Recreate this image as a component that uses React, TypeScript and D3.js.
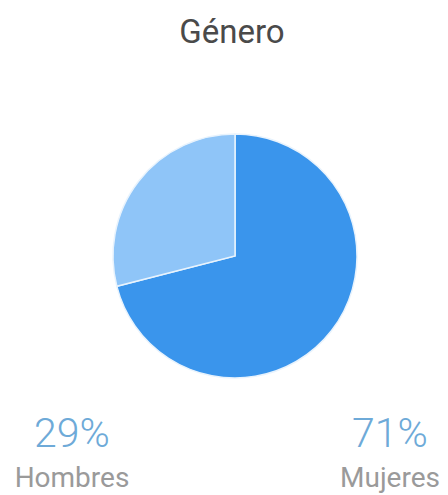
import React from "react";
import * as d3 from "d3";

const categories = ["Mujeres", "Hombres"];
const values = [71, 29];
const percentLabels = ["71%", "29%"];
const sliceColors = ["#3a95ec", "#8fc5f8"];

export default function App() {
  const width = 448;
  const height = 495;
  const cx = 235;
  const cy = 256;
  const r = 122;

  const pie = d3.pie<number>().sort(null).value((d) => d);
  const arcs = pie(values);
  const arcGen = d3.arc<d3.PieArcDatum<number>>().innerRadius(0).outerRadius(r);

  const labelX: Record<string, number> = { Hombres: 72, Mujeres: 390 };

  return (
    <svg
      width={width}
      height={height}
      style={{ position: "absolute", left: 0, top: 0, display: "block", background: "#fff" }}
    >
      <text
        x={232}
        y={43}
        textAnchor="middle"
        fontFamily="Roboto, 'Liberation Sans', sans-serif"
        fontSize={33}
        fill="#4a4a4a"
      >
        Género
      </text>
      <g transform={`translate(${cx},${cy})`}>
        {arcs.map((a, i) => (
          <path
            key={categories[i]}
            d={arcGen(a) || ""}
            fill={sliceColors[i]}
            stroke="#e8f3fd"
            strokeWidth={1.5}
          />
        ))}
      </g>
      {categories.map((c, i) => (
        <g key={c}>
          <text
            x={labelX[c]}
            y={447}
            textAnchor="middle"
            fontFamily="Roboto, 'Liberation Sans', sans-serif"
            fontWeight={300}
            fontSize={41}
            fill="#6eaad8"
          >
            {percentLabels[i]}
          </text>
          <text
            x={labelX[c]}
            y={487}
            textAnchor="middle"
            fontFamily="Roboto, 'Liberation Sans', sans-serif"
            fontSize={28}
            fill="#9a9a9a"
          >
            {c}
          </text>
        </g>
      ))}
    </svg>
  );
}
